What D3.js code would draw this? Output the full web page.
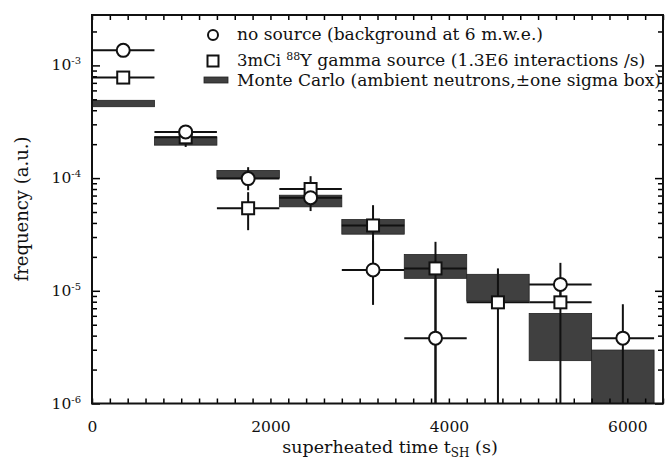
<!DOCTYPE html>
<html>
<head>
<meta charset="utf-8">
<script src="https://cdn.jsdelivr.net/npm/d3@7"></script>
<style>
  body { margin: 0; background: #fff; }
  text { font-family: "DejaVu Serif", serif; fill: #111; }
</style>
</head>
<body>
<script>
// bins of 700 s
const binStart = [0, 700, 1400, 2100, 2800, 3500, 4200, 4900, 5600];
const binWidth = 700;

// no source (background at 6 m.w.e.)
const noSrc   = [1.36e-3, 2.57e-4, 9.9e-5, 6.7e-5, 1.53e-5, 3.8e-6, null, 1.14e-5, 3.8e-6];
const noSrcLo = [1.36e-3, 2.35e-4, 7.8e-5, 5.1e-5, 7.5e-6, 1e-6, null, 7.5e-6, 1e-6];
const noSrcHi = [1.36e-3, 2.8e-4, 1.25e-4, 8.0e-5, 2.8e-5, 1.3e-5, null, 1.77e-5, 7.6e-6];

// 3mCi 88Y gamma source
const gam   = [7.8e-4, 2.3e-4, 5.4e-5, 8.0e-5, 3.8e-5, 1.58e-5, 7.9e-6, 7.9e-6, null];
const gamLo = [7.8e-4, 1.89e-4, 3.45e-5, 7.0e-5, 2.3e-5, 1e-6, 1e-6, 1e-6, null];
const gamHi = [7.8e-4, 2.5e-4, 7.5e-5, 1.04e-4, 5.75e-5, 2.72e-5, 1.58e-5, 1.0e-5, null];

// Monte Carlo, +- one sigma box
const mcLo = [4.3e-4, 1.96e-4, 1.0e-4, 5.56e-5, 3.18e-5, 1.29e-5, 8.1e-6, 2.4e-6, 1e-6];
const mcHi = [4.9e-4, 2.32e-4, 1.17e-4, 7.05e-5, 4.29e-5, 2.1e-5, 1.4e-5, 6.3e-6, 2.98e-6];

const xLabels = [0, 2000, 4000, 6000];
const yDecades = [-6, -5, -4, -3];

const W = 671, H = 461;
const svg = d3.select("body").append("svg").attr("width", W).attr("height", H);

const x = d3.scaleLinear().domain([0, 6400]).range([92, 663]);
const y = d3.scaleLog().domain([1e-6, 2.8e-3]).range([403.5, 15]);

const mcFill = "#404040";

// MC boxes
svg.append("g").selectAll("rect")
  .data(binStart.map((b, i) => ({ b: b, lo: mcLo[i], hi: mcHi[i] })))
  .enter().append("rect")
  .attr("x", d => x(d.b))
  .attr("width", d => x(d.b + binWidth) - x(d.b))
  .attr("y", d => y(d.hi))
  .attr("height", d => y(d.lo) - y(d.hi))
  .attr("fill", mcFill)
  .attr("stroke", "#222")
  .attr("stroke-width", 0.8);

// helper to build point rows
function rows(v, lo, hi) {
  return binStart.map((b, i) => ({ b: b, v: v[i], lo: lo[i], hi: hi[i] }))
    .filter(d => d.v != null);
}
const circ = rows(noSrc, noSrcLo, noSrcHi);
const sq = rows(gam, gamLo, gamHi);

function drawBars(data) {
  const g = svg.append("g").attr("stroke", "#111").attr("stroke-width", 2);
  g.selectAll(".h").data(data).enter().append("line")
    .attr("x1", d => x(d.b)).attr("x2", d => x(d.b + binWidth))
    .attr("y1", d => y(d.v)).attr("y2", d => y(d.v));
  g.selectAll(".v").data(data).enter().append("line")
    .attr("x1", d => x(d.b + binWidth / 2)).attr("x2", d => x(d.b + binWidth / 2))
    .attr("y1", d => y(d.lo)).attr("y2", d => y(d.hi));
}
drawBars(sq);
drawBars(circ);

svg.append("g").selectAll("rect").data(sq).enter().append("rect")
  .attr("x", d => x(d.b + binWidth / 2) - 6)
  .attr("y", d => y(d.v) - 6)
  .attr("width", 12).attr("height", 12)
  .attr("fill", "#fff").attr("stroke", "#111").attr("stroke-width", 2);

svg.append("g").selectAll("circle").data(circ).enter().append("circle")
  .attr("cx", d => x(d.b + binWidth / 2))
  .attr("cy", d => y(d.v))
  .attr("r", 6.5)
  .attr("fill", "#fff").attr("stroke", "#111").attr("stroke-width", 2);

// axes (ticks inside the frame)
const xt = d3.range(0, 6401, 200);
svg.append("g").attr("transform", "translate(0,403.5)")
  .call(d3.axisBottom(x).tickValues(xt).tickSize(-5).tickPadding(17)
    .tickFormat(d => xLabels.includes(d) ? d : ""))
  .call(g => g.select(".domain").remove())
  .call(g => g.selectAll("line").attr("stroke-width", 1.5))
  .call(g => g.selectAll("text").attr("font-size", 15.5).style("font-family", "DejaVu Serif"));
svg.append("g").attr("transform", "translate(0,15)")
  .call(d3.axisTop(x).tickValues(xt).tickSize(-5).tickFormat(""))
  .call(g => g.select(".domain").remove())
  .call(g => g.selectAll("line").attr("stroke-width", 1.5));

const majors = yDecades.map(e => Math.pow(10, e));
const minors = [];
yDecades.forEach(e => {
  for (let k = 2; k <= 9; k++) {
    const v = k * Math.pow(10, e);
    if (v <= y.domain()[1]) minors.push(v);
  }
});
[[d3.axisLeft, 92], [d3.axisRight, 663]].forEach(([ax, px]) => {
  svg.append("g").attr("transform", `translate(${px},0)`)
    .call(ax(y).tickValues(majors).tickSize(-8).tickFormat(""))
    .call(g => g.select(".domain").remove())
    .call(g => g.selectAll("line").attr("stroke-width", 1.5));
  svg.append("g").attr("transform", `translate(${px},0)`)
    .call(ax(y).tickValues(minors).tickSize(-5).tickFormat(""))
    .call(g => g.select(".domain").remove())
    .call(g => g.selectAll("line").attr("stroke-width", 1.5));
});

// y tick labels 10^n
yDecades.forEach(e => {
  const t = svg.append("text")
    .attr("x", 81).attr("y", y(Math.pow(10, e)) + 5)
    .attr("text-anchor", "end").attr("font-size", 15.5);
  t.append("tspan").text("10");
  t.append("tspan").attr("dy", -6).attr("font-size", 10).text("-" + (-e));
});

// frame
svg.append("rect")
  .attr("x", 92).attr("y", 15).attr("width", 663 - 92).attr("height", 403.5 - 15)
  .attr("fill", "none").attr("stroke", "#111").attr("stroke-width", 2);

// axis titles
const xt2 = svg.append("text").attr("x", 390).attr("y", 453)
  .attr("text-anchor", "middle").attr("font-size", 17.5);
xt2.append("tspan").text("superheated time t");
xt2.append("tspan").attr("dy", 4).attr("font-size", 12).text("SH");
xt2.append("tspan").attr("dy", -4).text(" (s)");

svg.append("text")
  .attr("transform", "translate(28,209) rotate(-90)")
  .attr("text-anchor", "middle").attr("font-size", 18)
  .text("frequency (a.u.)");

// legend
const lg = svg.append("g");
lg.append("circle").attr("cx", 213).attr("cy", 35).attr("r", 5)
  .attr("fill", "#fff").attr("stroke", "#111").attr("stroke-width", 2);
lg.append("rect").attr("x", 207.5).attr("y", 55.5).attr("width", 11).attr("height", 11)
  .attr("fill", "#fff").attr("stroke", "#111").attr("stroke-width", 2);
lg.append("rect").attr("x", 204).attr("y", 77).attr("width", 24).attr("height", 6)
  .attr("fill", mcFill).attr("stroke", "#222").attr("stroke-width", 0.8);

lg.append("text").attr("x", 237).attr("y", 40).attr("font-size", 16.5)
  .attr("textLength", 306).attr("lengthAdjust", "spacingAndGlyphs")
  .text("no source (background at 6 m.w.e.)");
const l2 = lg.append("text").attr("x", 237).attr("y", 66).attr("font-size", 16.5);
l2.append("tspan").text("3mCi ");
l2.append("tspan").attr("dy", -6).attr("font-size", 11).text("88");
l2.append("tspan").attr("dy", 6).attr("textLength", 345).attr("lengthAdjust", "spacingAndGlyphs")
  .text("Y  gamma source (1.3E6 interactions /s)");
lg.append("text").attr("x", 237).attr("y", 86).attr("font-size", 16.5)
  .attr("textLength", 424).attr("lengthAdjust", "spacingAndGlyphs")
  .text("Monte Carlo (ambient neutrons,\u00b1one sigma box)");
</script>
</body>
</html>
